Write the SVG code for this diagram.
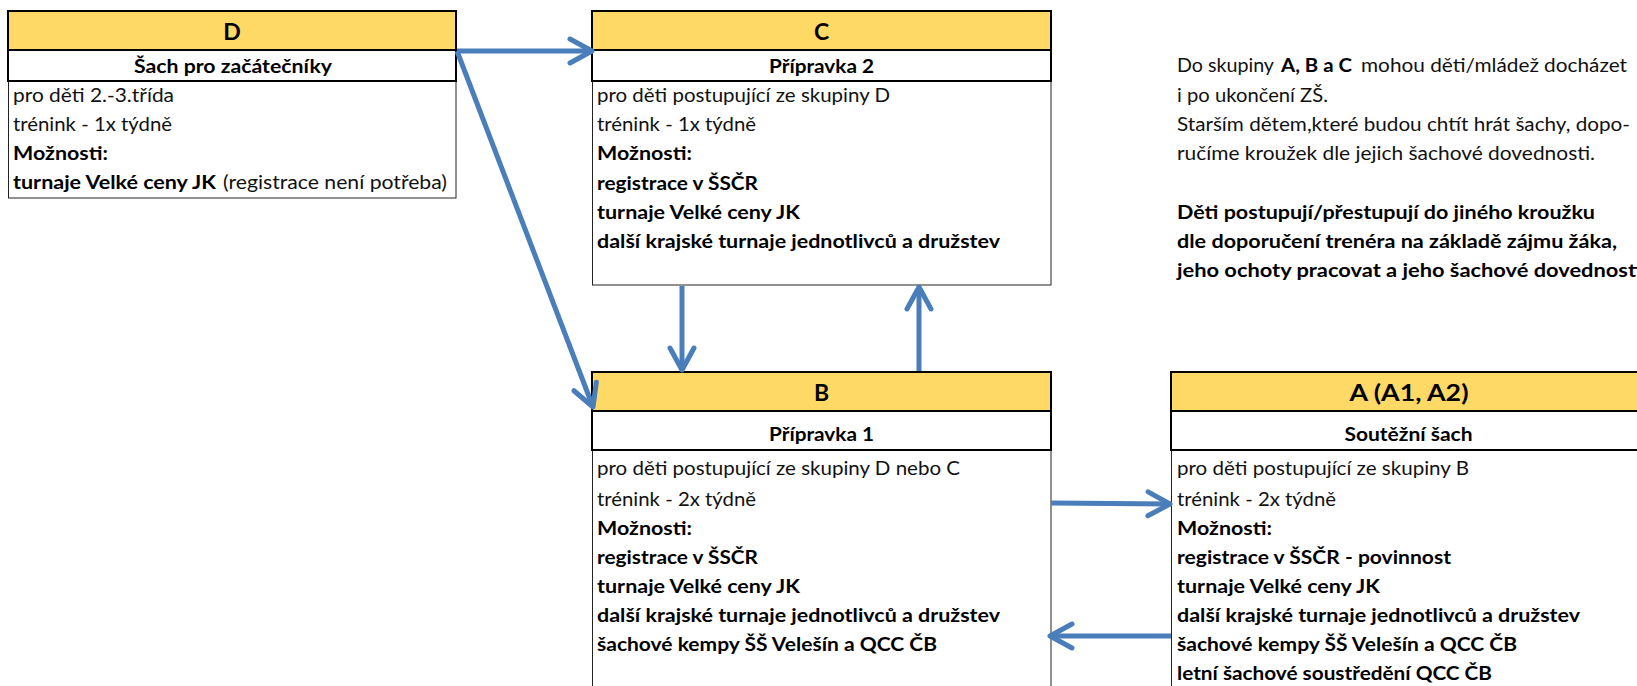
<svg xmlns="http://www.w3.org/2000/svg" width="1637" height="686" viewBox="0 0 1637 686">
<style>
.hdr{fill:#FFD966;stroke:#000;stroke-width:2}
.sub{fill:#fff;stroke:#000;stroke-width:2}
.bod{fill:#fff;stroke:#222;stroke-width:1}
text{font-family:Lato,"Liberation Sans",sans-serif;font-size:19.5px;fill:#111}
.b{font-weight:bold;fill:#000}
.h{font-size:23px;font-weight:bold;fill:#000;text-anchor:middle}
.s{font-weight:bold;fill:#000;text-anchor:middle}
.conn{stroke:#4A7EBB;stroke-width:5;fill:none;marker-end:url(#ah)}
</style>
<defs>
<marker id="ah" markerUnits="userSpaceOnUse" markerWidth="40" markerHeight="40" refX="0" refY="0" viewBox="-30 -20 40 40" orient="auto" overflow="visible">
<path d="M-22,-12 L0,0 L-22,12" fill="none" stroke="#4A7EBB" stroke-width="5" stroke-linecap="round" stroke-linejoin="round"/>
</marker>
</defs>
<rect width="1637" height="686" fill="#fff"/>

<g id="nodeD">
<rect class="bod" x="8.5" y="81" width="447.5" height="117"/>
<rect class="sub" x="8" y="50" width="448" height="31"/>
<rect class="hdr" x="8" y="11" width="448" height="39"/>
<text class="h" x="232" y="40">D</text>
<text class="s" x="233" y="73" textLength="198" lengthAdjust="spacingAndGlyphs">Šach pro začátečníky</text>
<text x="13" y="102" textLength="161" lengthAdjust="spacingAndGlyphs">pro děti 2.-3.třída</text>
<text x="13" y="131" textLength="159" lengthAdjust="spacingAndGlyphs">trénink - 1x týdně</text>
<text class="b" x="13" y="160" textLength="95" lengthAdjust="spacingAndGlyphs">Možnosti:</text>
<text class="b" x="13" y="189" textLength="203" lengthAdjust="spacingAndGlyphs">turnaje Velké ceny JK</text>
<text x="223" y="189" textLength="224" lengthAdjust="spacingAndGlyphs">(registrace není potřeba)</text>
</g>

<g id="nodeC">
<rect class="bod" x="592.5" y="81" width="458.5" height="204"/>
<rect class="sub" x="592" y="50" width="459" height="31"/>
<rect class="hdr" x="592" y="11" width="459" height="39"/>
<text class="h" x="821.5" y="40">C</text>
<text class="s" x="821.5" y="73" textLength="105" lengthAdjust="spacingAndGlyphs">Přípravka 2</text>
<text x="597" y="102" textLength="293" lengthAdjust="spacingAndGlyphs">pro děti postupující ze skupiny D</text>
<text x="597" y="131" textLength="159" lengthAdjust="spacingAndGlyphs">trénink - 1x týdně</text>
<text class="b" x="597" y="160" textLength="95" lengthAdjust="spacingAndGlyphs">Možnosti:</text>
<text class="b" x="597" y="190" textLength="161" lengthAdjust="spacingAndGlyphs">registrace v ŠSČR</text>
<text class="b" x="597" y="219" textLength="203" lengthAdjust="spacingAndGlyphs">turnaje Velké ceny JK</text>
<text class="b" x="597" y="248" textLength="403" lengthAdjust="spacingAndGlyphs">další krajské turnaje jednotlivců a družstev</text>
</g>

<g id="nodeB">
<rect class="bod" x="592.5" y="450" width="458.5" height="250"/>
<rect class="sub" x="592" y="411" width="459" height="39"/>
<rect class="hdr" x="592" y="372" width="459" height="39"/>
<text class="h" x="821.5" y="401">B</text>
<text class="s" x="821.5" y="441" textLength="105" lengthAdjust="spacingAndGlyphs">Přípravka 1</text>
<text x="597" y="475" textLength="363" lengthAdjust="spacingAndGlyphs">pro děti postupující ze skupiny D nebo C</text>
<text x="597" y="506" textLength="159" lengthAdjust="spacingAndGlyphs">trénink - 2x týdně</text>
<text class="b" x="597" y="535" textLength="95" lengthAdjust="spacingAndGlyphs">Možnosti:</text>
<text class="b" x="597" y="564" textLength="161" lengthAdjust="spacingAndGlyphs">registrace v ŠSČR</text>
<text class="b" x="597" y="593" textLength="203" lengthAdjust="spacingAndGlyphs">turnaje Velké ceny JK</text>
<text class="b" x="597" y="622" textLength="403" lengthAdjust="spacingAndGlyphs">další krajské turnaje jednotlivců a družstev</text>
<text class="b" x="597" y="651" textLength="340" lengthAdjust="spacingAndGlyphs">šachové kempy ŠŠ Velešín a QCC ČB</text>
</g>

<g id="nodeA">
<rect class="bod" x="1171.5" y="450" width="480" height="250"/>
<rect class="sub" x="1171" y="411" width="480" height="39"/>
<rect class="hdr" x="1171" y="372" width="480" height="39"/>
<text class="h" x="1409" y="401" textLength="119" lengthAdjust="spacingAndGlyphs">A (A1, A2)</text>
<text class="s" x="1408.5" y="441" textLength="128" lengthAdjust="spacingAndGlyphs">Soutěžní šach</text>
<text x="1177" y="475" textLength="292" lengthAdjust="spacingAndGlyphs">pro děti postupující ze skupiny B</text>
<text x="1177" y="506" textLength="159" lengthAdjust="spacingAndGlyphs">trénink - 2x týdně</text>
<text class="b" x="1177" y="535" textLength="95" lengthAdjust="spacingAndGlyphs">Možnosti:</text>
<text class="b" x="1177" y="564" textLength="274" lengthAdjust="spacingAndGlyphs">registrace v ŠSČR - povinnost</text>
<text class="b" x="1177" y="593" textLength="203" lengthAdjust="spacingAndGlyphs">turnaje Velké ceny JK</text>
<text class="b" x="1177" y="622" textLength="403" lengthAdjust="spacingAndGlyphs">další krajské turnaje jednotlivců a družstev</text>
<text class="b" x="1177" y="651" textLength="340" lengthAdjust="spacingAndGlyphs">šachové kempy ŠŠ Velešín a QCC ČB</text>
<text class="b" x="1177" y="680" textLength="315" lengthAdjust="spacingAndGlyphs">letní šachové soustředění QCC ČB</text>
</g>

<g id="note">
<text x="1177" y="72" textLength="97" lengthAdjust="spacingAndGlyphs">Do skupiny</text>
<text class="b" x="1281" y="72" textLength="71" lengthAdjust="spacingAndGlyphs">A, B a C</text>
<text x="1361" y="72" textLength="266" lengthAdjust="spacingAndGlyphs">mohou děti/mládež docházet</text>
<text x="1177" y="102" textLength="151" lengthAdjust="spacingAndGlyphs">i po ukončení ZŠ.</text>
<text x="1177" y="131" textLength="453" lengthAdjust="spacingAndGlyphs">Starším dětem,které budou chtít hrát šachy, dopo-</text>
<text x="1177" y="160" textLength="418" lengthAdjust="spacingAndGlyphs">ručíme kroužek dle jejich šachové dovednosti.</text>
<text class="b" x="1177" y="219" textLength="418" lengthAdjust="spacingAndGlyphs">Děti postupují/přestupují do jiného kroužku</text>
<text class="b" x="1177" y="248" textLength="440" lengthAdjust="spacingAndGlyphs">dle doporučení trenéra na základě zájmu žáka,</text>
<text class="b" x="1177" y="277" textLength="465" lengthAdjust="spacingAndGlyphs">jeho ochoty pracovat a jeho šachové dovednosti</text>
</g>

<g id="connectors">
<line class="conn" x1="457" y1="51" x2="592" y2="51"/>
<line class="conn" x1="457" y1="51" x2="593" y2="407"/>
<line class="conn" x1="682" y1="286" x2="682" y2="370"/>
<line class="conn" x1="919" y1="371" x2="919" y2="287"/>
<line class="conn" x1="1051" y1="503" x2="1170" y2="504"/>
<line class="conn" x1="1171" y1="636" x2="1050" y2="636"/>
</g>
</svg>
